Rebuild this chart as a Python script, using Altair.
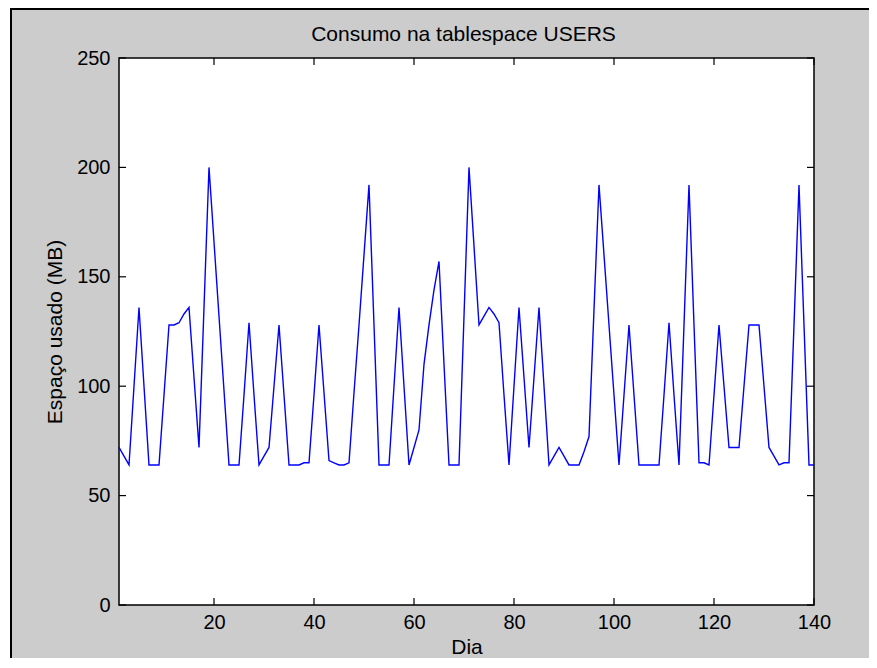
import altair as alt
import pandas as pd

days = list(range(1, 141))
usage_mb = [
    72, 68, 64, 100, 136, 100, 64, 64, 64, 96,
    128, 128, 129, 133, 136, 104, 72, 136, 200, 166,
    132, 98, 64, 64, 64, 96, 129, 96, 64, 68,
    72, 100, 128, 96, 64, 64, 64, 65, 65, 96,
    128, 97, 66, 65, 64, 64, 65, 97, 128, 160,
    192, 128, 64, 64, 64, 100, 136, 100, 64, 72,
    80, 110, 128, 144, 157, 110, 64, 64, 64, 132,
    200, 164, 128, 132, 136, 133, 129, 96, 64, 100,
    136, 104, 72, 104, 136, 100, 64, 68, 72, 68,
    64, 64, 64, 70, 77, 135, 192, 160, 128, 96,
    64, 96, 128, 96, 64, 64, 64, 64, 64, 96,
    129, 96, 64, 128, 192, 128, 65, 65, 64, 96,
    128, 100, 72, 72, 72, 100, 128, 128, 128, 100,
    72, 68, 64, 65, 65, 128, 192, 128, 64, 64,
]
x_ticks = [20, 40, 60, 80, 100, 120, 140]
y_ticks = [0, 50, 100, 150, 200, 250]

title_text = "Consumo na tablespace USERS"
x_title = "Dia"
y_title = "Espaço usado (MB)"

FONT = "Liberation Sans, Arial, sans-serif"
W, H = 695, 547
VIEW_W, VIEW_H = 861, 650
PAD_L, PAD_T = 111, 50
PAD_R = VIEW_W - PAD_L - W
PAD_B = VIEW_H - PAD_T - H
TICK = 7

df = pd.DataFrame({"dia": days, "mb": usage_mb})
xt = pd.DataFrame({"v": x_ticks})
yt = pd.DataFrame({"v": y_ticks})

xs = alt.Scale(domain=[1, 140], nice=False, zero=False)
ys = alt.Scale(domain=[0, 250], nice=False)

line = alt.Chart(df).mark_line(color="#0000ff", strokeWidth=1.4).encode(
    x=alt.X("dia:Q", scale=xs, title=x_title,
            axis=alt.Axis(values=x_ticks, ticks=False, domain=False, grid=False,
                          labelPadding=7, titlePadding=4, labelFlush=False)),
    y=alt.Y("mb:Q", scale=ys, title=y_title,
            axis=alt.Axis(values=y_ticks, ticks=False, domain=False, grid=False,
                          labelPadding=9, titlePadding=11)),
)

tb = alt.Chart(xt).mark_rule(color="black", strokeWidth=1.2).encode(
    x=alt.X("v:Q", scale=xs), y=alt.value(H), y2=alt.value(H - TICK))
tt = alt.Chart(xt).mark_rule(color="black", strokeWidth=1.2).encode(
    x=alt.X("v:Q", scale=xs), y=alt.value(0), y2=alt.value(TICK))
tl = alt.Chart(yt).mark_rule(color="black", strokeWidth=1.2).encode(
    y=alt.Y("v:Q", scale=ys), x=alt.value(0), x2=alt.value(TICK))
tr = alt.Chart(yt).mark_rule(color="black", strokeWidth=1.2).encode(
    y=alt.Y("v:Q", scale=ys), x=alt.value(W - TICK), x2=alt.value(W))

one = alt.Data(values=[{"a": 1}])
white_strip = alt.Chart(one).mark_rect(color="white").encode(
    x=alt.value(-PAD_L), x2=alt.value(-PAD_L + 3),
    y=alt.value(-PAD_T), y2=alt.value(H + PAD_B))
left_frame = alt.Chart(one).mark_rule(color="black", strokeWidth=2).encode(
    x=alt.value(-PAD_L + 3), y=alt.value(-PAD_T), y2=alt.value(H + PAD_B))
top_frame = alt.Chart(one).mark_rule(color="black", strokeWidth=2).encode(
    y=alt.value(-PAD_T + 1), x=alt.value(-PAD_L + 3), x2=alt.value(W + PAD_R))
title = alt.Chart(one).mark_text(
    text=title_text, font=FONT, fontSize=21, color="black",
    align="center", baseline="alphabetic",
).encode(x=alt.value(W / 2 - 3), y=alt.value(-17))

chart = alt.layer(white_strip, left_frame, top_frame, title, line, tb, tt, tl, tr).properties(
    width=W, height=H,
    autosize=alt.AutoSizeParams(type="none"),
    padding={"left": PAD_L, "top": PAD_T, "right": PAD_R, "bottom": PAD_B},
    background="#cccccc",
).configure_view(
    fill="white", stroke="black", strokeWidth=1.5
).configure_axis(
    labelFont=FONT, labelFontSize=20, labelColor="black",
    titleFont=FONT, titleFontSize=21, titleColor="black", titleFontWeight="normal",
)

chart.save("out.html", embed_options={"renderer": "svg", "actions": False})
